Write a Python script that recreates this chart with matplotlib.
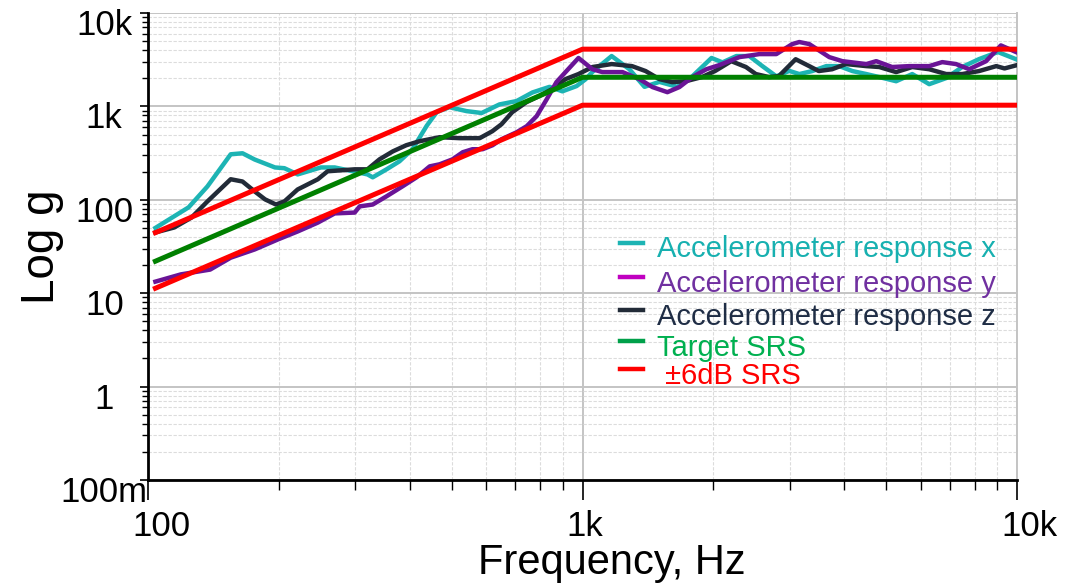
import matplotlib
matplotlib.use("Agg")
import matplotlib.pyplot as plt
from matplotlib.lines import Line2D
from matplotlib.ticker import FixedLocator, LogLocator, NullFormatter
from matplotlib.transforms import ScaledTranslation

# --- data (Hz, g) ---
freq_x = [104, 124, 137, 155, 165, 176, 196, 206, 221, 250, 269, 299, 320, 329,
          354, 379, 406, 438, 462, 494, 541, 586, 644, 705, 767, 840, 899, 969,
          1016, 1054, 1167, 1282, 1389, 1503, 1653, 1790, 1981, 2100, 2260, 2420,
          2594, 2793, 2992, 3155, 3380, 3640, 3900, 4180, 4500, 4820, 5270, 5740,
          6280, 6870, 7480, 8180, 9040, 9950]
acc_x = [50, 83, 139, 307, 315, 270, 222, 218, 187, 222, 222, 200, 187, 174,
         212, 258, 347, 620, 870, 980, 890, 850, 1050, 1140, 1410, 1620, 1450, 1650,
         1950, 2340, 3460, 2500, 1620, 1830, 1620, 2100, 3300, 2960, 3460, 3460,
         2700, 2100, 2400, 2220, 2390, 2700, 2700, 2390, 2220, 2060, 1860, 2220,
         1730, 2010, 2640, 3210, 3820, 3200]

freq_y = [104, 119, 139, 155, 176, 199, 221, 246, 269, 299, 307, 329, 354, 385,
          415, 445, 469, 502, 530, 558, 589, 621, 651, 705, 744, 784, 827, 871,
          914, 979, 1054, 1111, 1236, 1352, 1449, 1568, 1671, 1790, 1928, 2065,
          2296, 2552, 2793, 3040, 3155, 3325, 3698, 3963, 4500, 4743, 5160, 5650,
          6280, 6730, 7240, 7760, 8490, 9180, 9950]
acc_y = [13.3, 15.9, 17.9, 24, 29.4, 37.6, 45.8, 57, 71.5, 73, 85, 89, 109, 139,
         174, 228, 240, 271, 323, 348, 348, 384, 445, 528, 614, 785, 1190, 1820,
         2330, 3300, 2500, 2330, 2330, 1960, 1610, 1420, 1610, 2060, 2500, 2770,
         3370, 3630, 3630, 4650, 4890, 4650, 3370, 3050, 2840, 3050, 2640, 2700,
         2700, 2980, 2840, 2500, 3050, 4500, 3820]

freq_z = [104, 115, 126, 137, 155, 165, 176, 186, 197, 206, 221, 246, 259, 299,
          320, 341, 366, 393, 421, 469, 521, 580, 620, 651, 689, 743, 795, 851,
          914, 979, 1054, 1167, 1300, 1397, 1503, 1608, 1729, 1883, 2018, 2200,
          2378, 2506, 2686, 2832, 3094, 3325, 3498, 3754, 4037, 4500, 4820, 5270,
          5740, 6280, 6870, 7480, 8180, 8960, 9360, 9950]
acc_z = [44.7, 50.6, 64.7, 96, 166, 157, 123, 101, 89, 96, 129, 166, 202, 212,
         212, 271, 330, 384, 423, 468, 457, 457, 542, 644, 867, 1110, 1290, 1530,
         1960, 2220, 2640, 2840, 2700, 2390, 1960, 1820, 1860, 2060, 2390, 3050,
         2640, 2220, 2060, 2110, 3200, 2700, 2390, 2500, 2840, 2700, 2640, 2330,
         2640, 2500, 2220, 2220, 2390, 2700, 2550, 2750]

srs_freq = [104, 1000, 10000]
target_srs = [22, 2050, 2050]
upper_srs = [44.5, 4100, 4100]
lower_srs = [11.3, 1030, 1030]

y_ticks = [0.1, 1, 10, 100, 1000, 10000]
y_ticklabels = ["100m", "1", "10", "100", "1k", "10k"]
x_ticks = [100, 1000, 10000]
x_ticklabels = ["100", "1k", "10k"]

labels = ["Accelerometer response x", "Accelerometer response y",
          "Accelerometer response z", "Target SRS", " \u00b16dB SRS"]
line_colors = ["#1db4b4", "#c000c0", "#222b38", "#00a04a", "#ff0000"]
text_colors = ["#17b0b0", "#7030a0", "#1f2d45", "#00b050", "#ff0000"]

plt.rcParams["font.family"] = ["Liberation Sans", "DejaVu Sans"]

fig = plt.figure(figsize=(10.83, 5.84), dpi=100)
ax = fig.add_axes([148 / 1083, 1 - 480 / 584, 869 / 1083, 467 / 584])

lw = 3.2
ax.plot(freq_x, acc_x, color="#1db4b4", lw=lw, zorder=3)
ax.plot(freq_z, acc_z, color="#222b38", lw=lw, zorder=3)
ax.plot(freq_y, acc_y, color="#6a1496", lw=lw, zorder=3)
ax.plot(srs_freq, target_srs, color="#008000", lw=3.6, zorder=4)
ax.plot(srs_freq, upper_srs, color="#ff0000", lw=3.6, zorder=5)
ax.plot(srs_freq, lower_srs, color="#ff0000", lw=3.6, zorder=5)

ax.set_xscale("log")
ax.set_yscale("log")
ax.set_xlim(100, 10000)
ax.set_ylim(0.1, 10000)

ax.yaxis.set_major_locator(FixedLocator(y_ticks))
ax.set_yticklabels(y_ticklabels, fontsize=25, ha="center")
ax.xaxis.set_major_locator(FixedLocator(x_ticks))
ax.set_xticklabels(x_ticklabels, fontsize=25, ha="left")
ax.yaxis.set_minor_locator(LogLocator(base=10, subs=range(2, 10), numticks=20))
ax.xaxis.set_minor_locator(LogLocator(base=10, subs=range(2, 10), numticks=20))
ax.yaxis.set_minor_formatter(NullFormatter())
ax.xaxis.set_minor_formatter(NullFormatter())

ax.tick_params(axis="y", which="major", length=6, width=1.2, pad=25.5)
ax.tick_params(axis="y", which="minor", length=4, width=1.0)
ax.tick_params(axis="x", which="major", length=14.4, width=1.2, pad=7)
ax.tick_params(axis="x", which="minor", length=7.2, width=1.0)
for lab in ax.get_yticklabels():
    lab.set_transform(lab.get_transform() + ScaledTranslation(0, -0.09, fig.dpi_scale_trans))
for lab in ax.get_xticklabels():
    lab.set_transform(lab.get_transform() + ScaledTranslation(-0.16, 0, fig.dpi_scale_trans))

ax.grid(True, which="major", color="#c4c4c4", lw=1.4, ls="-", zorder=0)
ax.grid(True, which="minor", color="#dcdcdc", lw=0.8, ls=(0, (3, 1.5)), zorder=0)
ax.set_axisbelow(True)

ax.spines["top"].set_visible(False)
ax.spines["right"].set_color("#c4c4c4")
ax.spines["right"].set_linewidth(1.4)
ax.spines["left"].set_linewidth(2.0)
ax.spines["bottom"].set_linewidth(2.0)

ax.set_ylabel("Log g", fontsize=33)
ax.yaxis.set_label_coords(-0.097, 0.5)
ax.set_xlabel("Frequency, Hz", fontsize=30)
ax.xaxis.set_label_coords(0.534, -0.134)

# legend drawn by hand: the reference rows are not evenly spaced
legend_text_y = [257.5, 292.5, 325.5, 355.5, 383.5]
legend_handle_y = [243, 277, 310, 341, 369]
for lab, lc, tc, ty, hy in zip(labels, line_colors, text_colors, legend_text_y, legend_handle_y):
    ax.add_line(Line2D([(620 - 148) / 869, (643 - 148) / 869],
                       [1 - (hy - 13) / 467] * 2, color=lc, lw=3.2,
                       transform=ax.transAxes, clip_on=False, zorder=6))
    ax.text((657 - 148) / 869, 1 - (ty - 13) / 467, lab, color=tc, fontsize=21,
            va="baseline", ha="left", transform=ax.transAxes, zorder=6)

fig.savefig("out.png", dpi=100)
